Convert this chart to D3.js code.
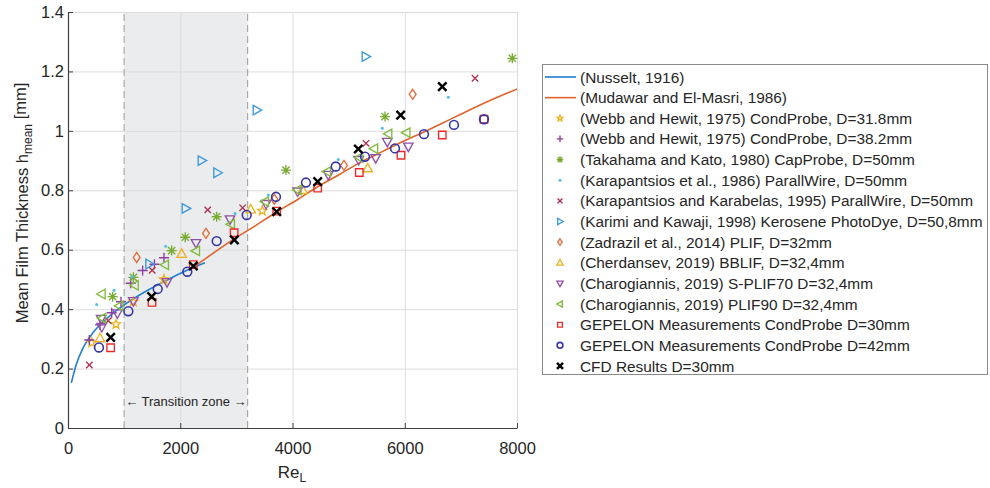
<!DOCTYPE html>
<html>
<head>
<meta charset="utf-8">
<script src="https://cdn.jsdelivr.net/npm/d3@7"></script>
<style>
  html, body { margin: 0; padding: 0; background: #ffffff; }
  svg text { font-family: "Liberation Sans", Arial, Helvetica, sans-serif; fill: #262626; }
</style>
</head>
<body>
<svg id="chart" width="990" height="488"></svg>
<script>
// Axis ticks
const xTicks = [0, 2000, 4000, 6000, 8000];
const yTicks = [0, 0.2, 0.4, 0.6, 0.8, 1.0, 1.2, 1.4];

// Transition zone bounds (Re_L)
const transitionZone = [1000, 3200];

// Correlation curves
const nusseltRe = [60, 150, 270, 450, 690, 1045, 1460, 1820, 2110, 2440];
const nusseltH  = [0.152, 0.215, 0.270, 0.322, 0.368, 0.420, 0.468, 0.503, 0.530, 0.556];
const mudawarRe = [2290, 2600, 2945, 3300, 3718, 4100, 4450, 4850, 5200, 5600, 5900, 6350, 6900, 7400, 8000];
const mudawarH  = [0.549, 0.590, 0.635, 0.676, 0.727, 0.770, 0.812, 0.855, 0.893, 0.930, 0.958, 0.997, 1.047, 1.092, 1.141];

// Experimental / numerical data sets
const webb318Re = [422, 855, 1164, 1710, 3462];
const webb318H  = [0.287, 0.349, 0.425, 0.500, 0.731];
const webb382Re = [380, 570, 778, 944, 1117, 1330, 1540, 1710];
const webb382H  = [0.296, 0.347, 0.388, 0.425, 0.487, 0.530, 0.551, 0.573];
const takahamaRe = [796, 1164, 1847, 2090, 2649, 3884, 5648, 7917];
const takahamaH  = [0.442, 0.507, 0.597, 0.642, 0.711, 0.868, 1.048, 1.244];
const karap86Re = [511, 820, 1146, 1740, 2975, 3569, 4816, 5600, 6776];
const karap86H  = [0.416, 0.464, 0.509, 0.612, 0.722, 0.784, 0.904, 1.009, 1.113];
const karap95Re = [380, 718, 1500, 2489, 3112, 5310, 7252];
const karap95H  = [0.212, 0.361, 0.531, 0.734, 0.741, 0.958, 1.177];
const karimiRe = [1449, 2097, 2382, 2660, 3362, 5304];
const karimiH  = [0.552, 0.739, 0.900, 0.859, 1.070, 1.250];
const zadrazilRe = [1224, 2459, 3676, 4917, 6141];
const zadrazilH  = [0.574, 0.655, 0.770, 0.884, 1.123];
const cherdansevRe = [570, 2025, 3255, 4180, 5340];
const cherdansevH  = [0.302, 0.586, 0.736, 0.801, 0.874];
const splif70Re = [590, 600, 879, 1164, 1764, 2281, 2886, 3528, 4090, 4638, 5180, 5482, 5689, 6064];
const splif70H  = [0.367, 0.340, 0.386, 0.427, 0.491, 0.622, 0.702, 0.754, 0.796, 0.852, 0.902, 0.908, 0.963, 0.947];
const plif90Re = [600, 610, 914, 1190, 1728, 2281, 2904, 3510, 4090, 4615, 5190, 5455, 5707, 6030];
const plif90H  = [0.451, 0.370, 0.411, 0.480, 0.549, 0.596, 0.686, 0.762, 0.801, 0.863, 0.910, 0.940, 0.990, 0.994];
const gepelon30Re = [760, 1497, 2233, 2960, 3718, 4449, 5190, 5933, 6669, 7412];
const gepelon30H  = [0.270, 0.423, 0.550, 0.657, 0.730, 0.807, 0.860, 0.918, 0.986, 1.039];
const gepelon42Re = [552, 1075, 1598, 2126, 2649, 3184, 3706, 4240, 4770, 5292, 5826, 6343, 6877, 7412];
const gepelon42H  = [0.271, 0.393, 0.468, 0.526, 0.629, 0.717, 0.778, 0.826, 0.880, 0.913, 0.941, 0.989, 1.020, 1.039];
const cfdRe = [760, 1491, 2233, 2964, 3718, 4449, 5173, 5927, 6669];
const cfdH  = [0.305, 0.442, 0.545, 0.633, 0.728, 0.829, 0.939, 1.053, 1.149];

const lineSeries = [
  { name: "(Nusselt, 1916)", re: nusseltRe, h: nusseltH, color: "#1f7fcf" },
  { name: "(Mudawar and El-Masri, 1986)", re: mudawarRe, h: mudawarH, color: "#e0632b" }
];

const pointSeries = [
  { name: "(Webb and Hewit, 1975) CondProbe, D=31.8mm", re: webb318Re, h: webb318H, marker: "star", color: "#edb120" },
  { name: "(Webb and Hewit, 1975) CondProbe, D=38.2mm", re: webb382Re, h: webb382H, marker: "plus", color: "#8e3c9e" },
  { name: "(Takahama and Kato, 1980) CapProbe, D=50mm", re: takahamaRe, h: takahamaH, marker: "asterisk", color: "#77ac30" },
  { name: "(Karapantsios et al., 1986) ParallWire, D=50mm", re: karap86Re, h: karap86H, marker: "dot", color: "#4dbeee" },
  { name: "(Karapantsios and Karabelas, 1995) ParallWire, D=50mm", re: karap95Re, h: karap95H, marker: "x", color: "#b03050" },
  { name: "(Karimi and Kawaji, 1998) Kerosene PhotoDye, D=50,8mm", re: karimiRe, h: karimiH, marker: "triRight", color: "#3b98dc" },
  { name: "(Zadrazil et al., 2014) PLIF, D=32mm", re: zadrazilRe, h: zadrazilH, marker: "diamond", color: "#e36e3c" },
  { name: "(Cherdansev, 2019) BBLIF, D=32,4mm", re: cherdansevRe, h: cherdansevH, marker: "triUp", color: "#edb120" },
  { name: "(Charogiannis, 2019) S-PLIF70 D=32,4mm", re: splif70Re, h: splif70H, marker: "triDown", color: "#9050a8" },
  { name: "(Charogiannis, 2019) PLIF90 D=32,4mm", re: plif90Re, h: plif90H, marker: "triLeft", color: "#80bb40" },
  { name: "GEPELON Measurements CondProbe D=30mm", re: gepelon30Re, h: gepelon30H, marker: "square", color: "#f02828" },
  { name: "GEPELON Measurements CondProbe D=42mm", re: gepelon42Re, h: gepelon42H, marker: "circle", color: "#3535a8" },
  { name: "CFD Results D=30mm", re: cfdRe, h: cfdH, marker: "xBold", color: "#000000" }
];

const svg = d3.select("#chart");
const plot = { left: 68, right: 517, top: 12, bottom: 428 };

const x = d3.scaleLinear().domain([0, 8000]).range([plot.left, plot.right]);
const y = d3.scaleLinear().domain([0, 1.4]).range([plot.bottom, plot.top]);

// Marker shapes, s = half size
function markerPath(type, s) {
  switch (type) {
    case "plus": return `M${-s},0H${s}M0,${-s}V${s}`;
    case "x":
    case "xBold": return `M${-s},${-s}L${s},${s}M${-s},${s}L${s},${-s}`;
    case "asterisk": {
      const d = s * 0.72;
      return `M${-s},0H${s}M0,${-s}V${s}M${-d},${-d}L${d},${d}M${-d},${d}L${d},${-d}`;
    }
    case "triUp": return `M0,${-s}L${s * 0.95},${s * 0.7}L${-s * 0.95},${s * 0.7}Z`;
    case "triDown": return `M0,${s}L${s * 0.95},${-s * 0.7}L${-s * 0.95},${-s * 0.7}Z`;
    case "triLeft": return `M${-s},0L${s * 0.7},${-s * 0.95}L${s * 0.7},${s * 0.95}Z`;
    case "triRight": return `M${s},0L${-s * 0.7},${-s * 0.95}L${-s * 0.7},${s * 0.95}Z`;
    case "diamond": return `M0,${-s}L${s * 0.68},0L0,${s}L${-s * 0.68},0Z`;
    case "square": { const q = s * 0.72; return `M${-q},${-q}H${q}V${q}H${-q}Z`; }
    case "circle": { const r = s * 0.88; return `M${r},0A${r},${r} 0 1,1 ${-r},0A${r},${r} 0 1,1 ${r},0Z`; }
    case "dot": { const r = 1.5; return `M${r},0A${r},${r} 0 1,1 ${-r},0A${r},${r} 0 1,1 ${r},0Z`; }
    case "star": {
      const pts = [];
      for (let i = 0; i < 10; i++) {
        const r = i % 2 === 0 ? s * 0.95 : s * 0.4;
        const a = -Math.PI / 2 + i * Math.PI / 5;
        pts.push([r * Math.cos(a), r * Math.sin(a)]);
      }
      return "M" + pts.map(p => p[0].toFixed(2) + "," + p[1].toFixed(2)).join("L") + "Z";
    }
  }
  return "";
}

function drawMarker(g, type, color, cx, cy, s) {
  const p = g.append("path")
    .attr("d", markerPath(type, s))
    .attr("transform", `translate(${cx},${cy})`)
    .attr("stroke-linejoin", "miter");
  if (type === "dot") {
    p.attr("fill", color).attr("stroke", "none");
  } else {
    const w = type === "xBold" ? 2.4 : type === "circle" ? 1.6 : 1.35;
    p.attr("fill", "none").attr("stroke", color).attr("stroke-width", w);
  }
}

// Transition zone patch
svg.append("rect")
  .attr("x", x(transitionZone[0]))
  .attr("y", y(1.4))
  .attr("width", x(transitionZone[1]) - x(transitionZone[0]))
  .attr("height", y(0) - y(1.4))
  .attr("fill", "#ebeced");

// Grid
const grid = svg.append("g").attr("stroke", "#dcdcdc").attr("stroke-width", 1);
xTicks.forEach(t => grid.append("line")
  .attr("x1", x(t) + 0.5).attr("x2", x(t) + 0.5).attr("y1", y(0)).attr("y2", y(1.4)));
yTicks.forEach(t => grid.append("line")
  .attr("x1", x(0)).attr("x2", x(8000)).attr("y1", y(t) + 0.5).attr("y2", y(t) + 0.5));

// Transition zone borders
transitionZone.forEach(v => svg.append("line")
  .attr("x1", x(v)).attr("x2", x(v)).attr("y1", y(0)).attr("y2", y(1.4))
  .attr("stroke", "#a8a8a8").attr("stroke-width", 1.2).attr("stroke-dasharray", "7,4"));

svg.append("text")
  .attr("x", (x(transitionZone[0]) + x(transitionZone[1])) / 2)
  .attr("y", 401)
  .attr("dy", "0.35em")
  .attr("text-anchor", "middle")
  .style("font-size", "13px")
  .text("\u2190 Transition zone \u2192");

// Axes
const xAxis = d3.axisBottom(x).tickValues(xTicks).tickFormat(d3.format("d"))
  .tickSizeInner(-5).tickSizeOuter(0).tickPadding(14);
const yAxis = d3.axisLeft(y).tickValues(yTicks).tickFormat(d => d === 0 ? "0" : d3.format("~g")(d))
  .tickSizeInner(-5).tickSizeOuter(0).tickPadding(4);

const gx = svg.append("g").attr("transform", `translate(0,${plot.bottom})`).call(xAxis);
const gy = svg.append("g").attr("transform", `translate(${plot.left},0)`).call(yAxis);
[gx, gy].forEach(g => {
  g.select(".domain").attr("stroke", "#404040").attr("stroke-width", 1.2);
  g.selectAll(".tick line").attr("stroke", "#404040");
  g.selectAll(".tick text").style("font-size", "16.5px").attr("fill", "#262626");
});

// Axis titles
const yl = svg.append("text")
  .attr("transform", "translate(28,203) rotate(-90)")
  .attr("text-anchor", "middle")
  .style("font-size", "16.5px");
yl.append("tspan").text("Mean Film Thickness h");
yl.append("tspan").attr("dy", "0.35em").style("font-size", "12px").text("mean");
yl.append("tspan").attr("dy", "-0.35em").text(" [mm]");

const xl = svg.append("text")
  .attr("x", 292).attr("y", 478)
  .attr("text-anchor", "middle")
  .style("font-size", "17px");
xl.append("tspan").text("Re");
xl.append("tspan").attr("dy", "0.35em").style("font-size", "12px").text("L");

// Curves
const line = d3.line().curve(d3.curveMonotoneX);
lineSeries.forEach(s => {
  svg.append("path")
    .attr("d", line(s.re.map((r, i) => [x(r), y(s.h[i])])))
    .attr("fill", "none")
    .attr("stroke", s.color)
    .attr("stroke-width", 1.6);
});

// Data points
const pts = svg.append("g");
pointSeries.forEach(s => {
  const size = s.marker === "square" ? 5.2 : s.marker === "xBold" ? 4.2 : s.marker === "x" ? 3.2 : 5;
  s.re.forEach((r, i) => drawMarker(pts, s.marker, s.color, x(r), y(s.h[i]), size));
});

// Legend
const legend = svg.append("g");
legend.append("rect")
  .attr("x", 542.5).attr("y", 64.5).attr("width", 445).attr("height", 310)
  .attr("fill", "#ffffff").attr("stroke", "#8a8a8a").attr("stroke-width", 1);

const entries = lineSeries.map(s => ({ ...s, kind: "line" }))
  .concat(pointSeries.map(s => ({ ...s, kind: "point" })));
const rowY = i => 77 + i * 20.64;
entries.forEach((e, i) => {
  const cy = rowY(i);
  if (e.kind === "line") {
    legend.append("line").attr("x1", 545).attr("x2", 576).attr("y1", cy).attr("y2", cy)
      .attr("stroke", e.color).attr("stroke-width", 1.6);
  } else {
    const sz = e.marker === "xBold" ? 3 : e.marker === "x" ? 2.4 : 3.3;
    drawMarker(legend, e.marker, e.color, 560, cy, sz);
  }
  legend.append("text")
    .attr("x", 580).attr("y", cy).attr("dy", "0.36em")
    .style("font-size", "15.4px")
    .text(e.name);
});
</script>
</body>
</html>
